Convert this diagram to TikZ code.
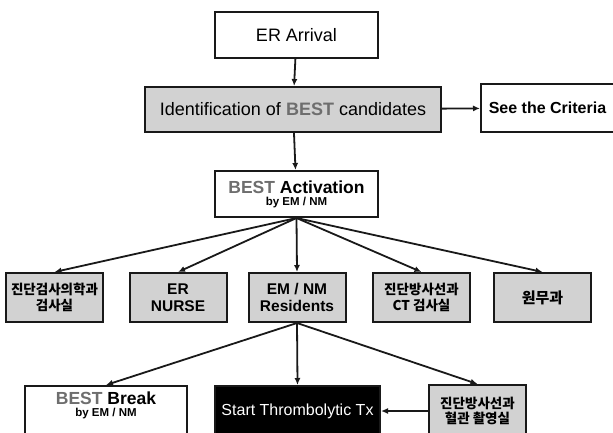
\documentclass[tikz,border=0pt]{standalone}
\usepackage{fontspec}
\setmainfont{Liberation Sans}
\newfontfamily\krfont{Noto Sans CJK KR}
\usetikzlibrary{arrows.meta}
\definecolor{mygray}{RGB}{210,210,210}
\definecolor{mybest}{RGB}{110,110,110}
\definecolor{mydark}{RGB}{25,25,25}
\newcommand{\best}{\textcolor{mybest}{\bfseries BEST}}
\tikzset{
  whitebox/.style={rectangle, draw=mydark, fill=white, line width=2pt,
    inner sep=0pt, align=center},
  graybox/.style={whitebox, fill=mygray},
  blackbox/.style={whitebox, fill=black, text=white},
  rowbox/.style={graybox, minimum width=97pt, minimum height=49pt},
  krtext/.style={font=\krfont\bfseries\fontsize{13.5}{15.5}\selectfont},
  entext/.style={font=\bfseries\fontsize{15.5}{17.5}\selectfont},
  arrow/.style={-{Latex[length=7pt,width=6pt]}, line width=1.8pt, color=mydark}
}

\begin{document}
\begin{tikzpicture}[x=1pt, y=-1pt]
  \useasboundingbox (0,0) rectangle (613,432);
  % ── top of the chart ──────────────────────────────────────────────
  \node[whitebox, minimum width=163pt, minimum height=46pt,
    font=\fontsize{18}{20}\selectfont] (arrival) at (296.5,35) {ER Arrival};
  \node[graybox, minimum width=296pt, minimum height=45pt,
    font=\fontsize{18}{20}\selectfont] (ident) at (293,109.5)
    {Identification of \best{} candidates};
  \node[whitebox, minimum width=133pt, minimum height=48pt,
    font=\bfseries\fontsize{16}{18}\selectfont] (criteria) at (547.5,108)
    {See the Criteria};
  \node[whitebox, minimum width=163pt, minimum height=46pt] (activ) at (296.5,194)
    {{\fontsize{17.5}{19}\selectfont\best{} \bfseries Activation}\\[0pt]
     {\bfseries\fontsize{11.5}{12}\selectfont by EM / NM}};
  % ── second row ────────────────────────────────────────────────────
  \node[rowbox, krtext] (lab) at (54.5,297.5) {진단검사의학과\\검사실};
  \node[rowbox, entext] (nurse) at (178,297.5) {ER\\NURSE};
  \node[rowbox, entext] (resid) at (297,297.5) {EM / NM\\Residents};
  \node[rowbox, krtext] (ctroom) at (421.5,297.5) {진단방사선과\\CT 검사실};
  \node[rowbox, font=\krfont\bfseries\fontsize{15}{17}\selectfont] (admin) at (542.5,297.5) {원무과};
  % ── bottom row ────────────────────────────────────────────────────
  \node[whitebox, minimum width=162pt, minimum height=50pt] (brk) at (106,411)
    {{\fontsize{17.5}{19}\selectfont\best{} \bfseries Break}\\[0pt]
     {\bfseries\fontsize{11.5}{12}\selectfont by EM / NM}\\[2pt]};
  \node[blackbox, minimum width=165pt, minimum height=50pt,
    font=\fontsize{16}{18}\selectfont] (thromb) at (297.5,411)
    {Start Thrombolytic Tx};
  \node[graybox, krtext, minimum width=97pt, minimum height=52pt] (angio) at (477.5,411)
    {진단방사선과\\혈관 촬영실};
  % ── connectors ────────────────────────────────────────────────────
  \draw[arrow] (arrival) -- (ident);
  \draw[arrow] (ident) -- (criteria);
  \draw[arrow] (ident) -- (activ);
  \foreach \b in {lab, nurse, resid, ctroom, admin}
    \draw[arrow] (activ.south) -- (\b.north);
  \foreach \b in {brk, thromb, angio}
    \draw[arrow] (resid.south) -- (\b.north);
  \draw[arrow] (angio) -- (thromb);
\end{tikzpicture}
\end{document}
